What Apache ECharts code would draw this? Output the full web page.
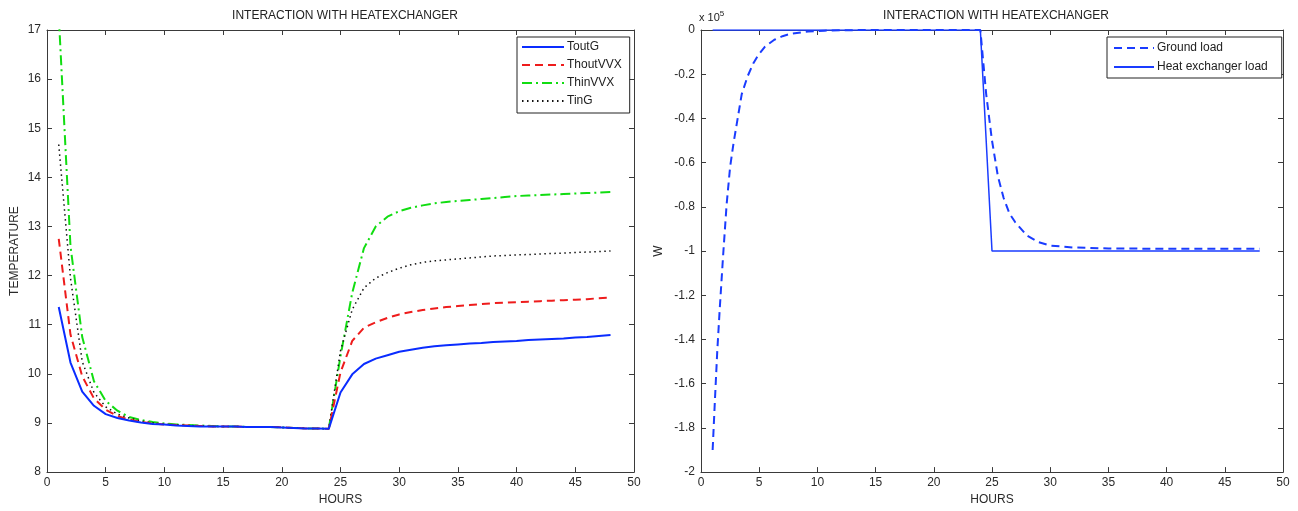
<!DOCTYPE html>
<html>
<head>
<meta charset="utf-8">
<script src="https://cdn.jsdelivr.net/npm/echarts@6/dist/echarts.min.js"></script>
<style>
html,body{margin:0;padding:0;background:#fff;}
#chart{width:1298px;height:511px;}
</style>
</head>
<body>
<div id="chart"></div>
<script>
// ---- Left chart data (temperatures vs hours) ----
var hours = [1,2,3,4,5,6,7,8,9,10,11,12,13,14,15,16,17,18,19,20,21,22,23,24,
             25,26,27,28,29,30,31,32,33,34,35,36,37,38,39,40,41,42,43,44,45,46,47,48];
var toutG = [11.36,10.23,9.64,9.35,9.18,9.10,9.05,9.01,8.98,8.97,8.95,8.94,8.93,8.93,8.93,8.93,8.92,8.92,8.92,8.91,8.90,8.89,8.89,8.88,
             9.62,9.99,10.20,10.31,10.38,10.45,10.49,10.53,10.56,10.58,10.60,10.62,10.63,10.65,10.66,10.67,10.69,10.70,10.71,10.72,10.74,10.75,10.77,10.79];
var thoutVVX = [12.75,10.80,9.95,9.50,9.27,9.14,9.07,9.02,8.99,8.97,8.96,8.95,8.94,8.93,8.93,8.93,8.92,8.92,8.92,8.91,8.90,8.89,8.89,8.88,
             10.03,10.67,10.94,11.05,11.14,11.21,11.26,11.30,11.33,11.36,11.38,11.40,11.42,11.44,11.45,11.46,11.47,11.48,11.49,11.50,11.51,11.52,11.54,11.55];
var thinVVX = [17.30,12.60,10.75,9.85,9.45,9.25,9.12,9.06,9.02,8.99,8.97,8.96,8.95,8.94,8.93,8.93,8.92,8.92,8.92,8.91,8.90,8.89,8.89,8.88,
             10.36,11.65,12.56,13.00,13.20,13.31,13.38,13.43,13.47,13.50,13.52,13.54,13.56,13.58,13.60,13.62,13.63,13.64,13.65,13.66,13.67,13.68,13.69,13.70];
var tinG = [14.67,11.95,10.25,9.62,9.33,9.18,9.10,9.04,9.00,8.98,8.96,8.95,8.94,8.93,8.93,8.93,8.92,8.92,8.92,8.91,8.90,8.89,8.89,8.88,
             10.47,11.31,11.75,11.95,12.06,12.15,12.22,12.27,12.30,12.32,12.34,12.36,12.38,12.40,12.41,12.42,12.43,12.44,12.45,12.46,12.47,12.48,12.49,12.50];

// ---- Right chart data (loads, x 10^5 W) ----
var groundHours = [1,1.2,1.4,1.6,1.9,2.2,2.5,2.8,3.15,3.5,4,4.5,4.9,5.5,6.3,7,7.7,9.2,10.6,12,15,20,24,
                   24.5,25,25.5,26,26.5,27,28,29,30,32,35,40,45,48];
var groundLoad = [-1.90,-1.67,-1.45,-1.27,-1.02,-0.79,-0.62,-0.51,-0.40,-0.29,-0.21,-0.15,-0.115,-0.075,-0.044,-0.028,-0.017,-0.007,-0.003,-0.001,0,0,0,
                  -0.29,-0.50,-0.66,-0.76,-0.83,-0.87,-0.93,-0.96,-0.975,-0.984,-0.988,-0.99,-0.99,-0.99];
var hxHours = [1,24,25,48];
var hxLoad = [0,0,-1.0,-1.0];

var titleText = 'INTERACTION WITH HEATEXCHANGER';
var font = 'Liberation Sans, Arial, sans-serif';

function pairs(xs, ys){ return xs.map(function(x,i){ return [x, ys[i]]; }); }

var axisCol = '#3a3a3a';
var labelCol = '#2a2a2a';

function xAx(grid, pos, show){
  return {type:'value', gridIndex:grid, position:pos, min:0, max:50, interval:5,
    name: show ? 'HOURS' : '', nameLocation:'middle', nameGap:21,
    nameTextStyle:{fontFamily:font, fontSize:12, color:labelCol},
    axisLine:{show:true, onZero:false, lineStyle:{color:axisCol, width:1}},
    axisTick:{show:true, inside:true, length:5, lineStyle:{color:axisCol}},
    axisLabel:{show:show, fontFamily:font, fontSize:12, color:labelCol, margin:5},
    splitLine:{show:false}};
}
function yAx(grid, pos, show, min, max, interval, name, gap){
  return {type:'value', gridIndex:grid, position:pos, min:min, max:max, interval:interval,
    name: show ? name : '', nameLocation:'middle', nameGap:gap, nameRotate:90,
    nameTextStyle:{fontFamily:font, fontSize:12, color:labelCol},
    axisLine:{show:true, onZero:false, lineStyle:{color:axisCol, width:1}},
    axisTick:{show:true, inside:true, length:5, lineStyle:{color:axisCol}},
    axisLabel:{show:show, fontFamily:font, fontSize:12, color:labelCol, margin:6},
    splitLine:{show:false}};
}

var chart = echarts.init(document.getElementById('chart'), null, {renderer:'canvas'});
chart.setOption({
  animation:false,
  backgroundColor:'#fff',
  title:[
    {text:titleText, left:340, top:5, textAlign:'center', textStyle:{fontFamily:font, fontSize:12, fontWeight:'normal', color:'#222'}},
    {text:titleText, left:991, top:5, textAlign:'center', textStyle:{fontFamily:font, fontSize:12, fontWeight:'normal', color:'#222'}}
  ],
  grid:[
    {left:47, top:30, width:587, height:444},
    {left:701, top:30, width:582, height:445}
  ],
  xAxis:[xAx(0,'bottom',true), xAx(0,'top',false), xAx(1,'bottom',true), xAx(1,'top',false)],
  yAxis:[
    yAx(0,'left',true,8,17,1,'TEMPERATURE',26),
    yAx(0,'right',false,8,17,1,'',0),
    yAx(1,'left',true,-2,0,0.2,'W',36),
    yAx(1,'right',false,-2,0,0.2,'',0)
  ],
  legend:[
    {data:['ToutG','ThoutVVX','ThinVVX','TinG'], orient:'vertical', left:517, top:37,
     itemWidth:42, itemHeight:12, itemGap:6, padding:[4,8,6,4],
     itemStyle:{opacity:0},
     backgroundColor:'#fff', borderColor:'#222', borderWidth:1, borderRadius:0,
     textStyle:{fontFamily:font, fontSize:12, color:'#222', padding:[0,0,0,-2]}},
    {data:['Ground load','Heat exchanger load'], orient:'vertical', left:1107, top:37,
     itemWidth:40, itemHeight:12, itemGap:7, padding:[5,14,5,6],
     itemStyle:{opacity:0},
     backgroundColor:'#fff', borderColor:'#222', borderWidth:1, borderRadius:0,
     textStyle:{fontFamily:font, fontSize:12, color:'#222', padding:[0,0,0,-2]}}
  ],
  graphic:[
    {type:'text', left:699, top:10, style:{
      text:'x 10{s|5}', fontFamily:font, fontSize:11, fill:'#222',
      rich:{s:{fontSize:8, verticalAlign:'top', padding:[0,0,8,0], fill:'#222', fontFamily:font}}}}
  ],
  series:[
    {name:'ToutG', type:'line', xAxisIndex:0, yAxisIndex:0, data:pairs(hours,toutG), symbol:'none',
     lineStyle:{color:'#0a2cff', width:2, type:'solid'}, itemStyle:{color:'#0a2cff'}, z:5},
    {name:'ThoutVVX', type:'line', xAxisIndex:0, yAxisIndex:0, data:pairs(hours,thoutVVX), symbol:'none',
     lineStyle:{color:'#ee1c1c', width:2, type:[8,5]}, itemStyle:{color:'#ee1c1c'}, z:4},
    {name:'ThinVVX', type:'line', xAxisIndex:0, yAxisIndex:0, data:pairs(hours,thinVVX), symbol:'none',
     lineStyle:{color:'#11dd11', width:2, type:[10,4,2,4]}, itemStyle:{color:'#11dd11'}, z:3},
    {name:'TinG', type:'line', xAxisIndex:0, yAxisIndex:0, data:pairs(hours,tinG), symbol:'none',
     lineStyle:{color:'#111', width:1.5, type:[1.5,3.5]}, itemStyle:{color:'#111'}, z:3},
    {name:'Ground load', type:'line', xAxisIndex:2, yAxisIndex:2, data:pairs(groundHours,groundLoad), symbol:'none',
     lineStyle:{color:'#1a3cff', width:2, type:[8,5]}, itemStyle:{color:'#1a3cff'}, z:4},
    {name:'Heat exchanger load', type:'line', xAxisIndex:2, yAxisIndex:2, data:pairs(hxHours,hxLoad), symbol:'none',
     lineStyle:{color:'#1a3cff', width:1.5, type:'solid'}, itemStyle:{color:'#1a3cff'}, z:3}
  ]
});
</script>
</body>
</html>
